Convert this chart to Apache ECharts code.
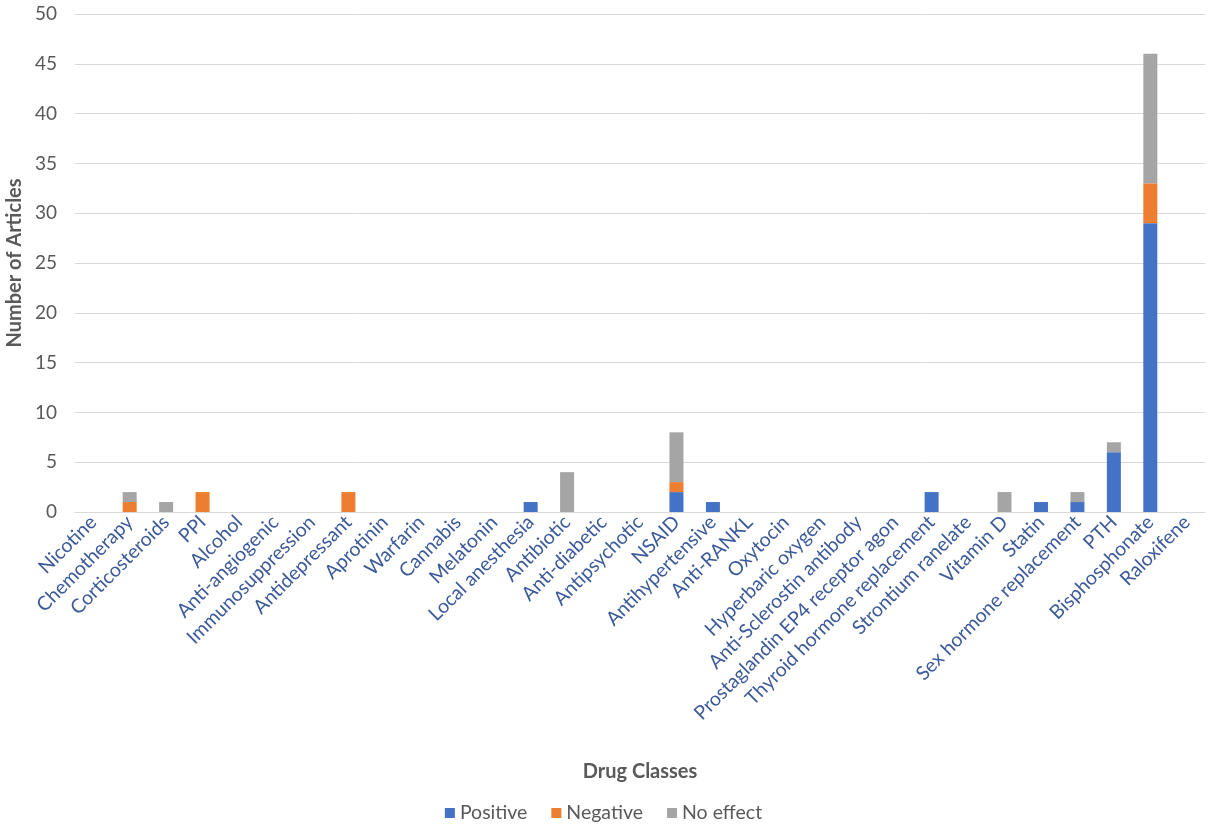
<!DOCTYPE html>
<html>
<head>
<meta charset="utf-8">
<script src="https://cdn.jsdelivr.net/npm/echarts@6/dist/echarts.min.js"></script>
<style>
  html, body { margin: 0; padding: 0; background: #ffffff; }
  #chart { width: 1207px; height: 831px; }
</style>
</head>
<body>
<div id="chart"></div>
<script>
// Drug classes along the x axis
const categories = [
  'Nicotine', 'Chemotherapy', 'Corticosteroids', 'PPI', 'Alcohol',
  'Anti-angiogenic', 'Immunosuppression', 'Antidepressant', 'Aprotinin', 'Warfarin',
  'Cannabis', 'Melatonin', 'Local anesthesia', 'Antibiotic', 'Anti-diabetic',
  'Antipsychotic', 'NSAID', 'Antihypertensive', 'Anti-RANKL', 'Oxytocin',
  'Hyperbaric oxygen', 'Anti-Sclerostin antibody', 'Prostaglandin EP4 receptor agon',
  'Thyroid hormone replacement', 'Strontium ranelate', 'Vitamin D', 'Statin',
  'Sex hormone replacement', 'PTH', 'Bisphosphonate', 'Raloxifene'
];

// Number of articles per outcome
const positive = [0, 0, 0, 0, 0, 0, 0, 0, 0, 0, 0, 0, 1, 0, 0, 0, 2, 1, 0, 0, 0, 0, 0, 2, 0, 0, 1, 1, 6, 29, 0];
const negative = [0, 1, 0, 2, 0, 0, 0, 2, 0, 0, 0, 0, 0, 0, 0, 0, 1, 0, 0, 0, 0, 0, 0, 0, 0, 0, 0, 0, 0, 4, 0];
const noEffect = [0, 1, 1, 0, 0, 0, 0, 0, 0, 0, 0, 0, 0, 4, 0, 0, 5, 0, 0, 0, 0, 0, 0, 0, 0, 2, 0, 1, 1, 13, 0];

const yTicks = { min: 0, max: 50, interval: 5 };

const FONT = 'Lato, "Open Sans", sans-serif';
const FS = 19.5;
const chart = echarts.init(document.getElementById('chart'));

function barSeries(name, data, color) {
  return {
    name: name,
    type: 'bar',
    stack: 'articles',
    data: data,
    barWidth: 14,
    itemStyle: { color: color },
    emphasis: { disabled: true }
  };
}

chart.setOption({
  animation: false,
  textStyle: { fontFamily: FONT },
  grid: {
    left: 75, right: 2, top: 14, bottom: 319,
    containLabel: false,
    outerBoundsMode: 'none'
  },
  legend: {
    bottom: 3,
    left: 'center',
    itemWidth: 10,
    itemHeight: 10,
    itemGap: 24,
    icon: 'rect',
    textStyle: { color: '#595959', fontSize: FS, fontFamily: FONT },
    data: ['Positive', 'Negative', 'No effect']
  },
  xAxis: {
    type: 'category',
    data: categories,
    name: 'Drug Classes',
    nameLocation: 'middle',
    nameGap: 250,
    nameTextStyle: { color: '#595959', fontSize: 20, fontWeight: 'bold', fontFamily: FONT },
    axisLine: { lineStyle: { color: '#D9D9D9', width: 1 } },
    axisTick: { show: false },
    axisLabel: {
      interval: 0,
      rotate: 45,
      margin: 7,
      color: '#3B5A9A',
      fontSize: FS,
      fontFamily: FONT
    }
  },
  yAxis: {
    type: 'value',
    min: yTicks.min,
    max: yTicks.max,
    interval: yTicks.interval,
    name: 'Number of Articles',
    nameLocation: 'middle',
    nameGap: 47,
    nameTextStyle: { color: '#595959', fontSize: 20, fontWeight: 'bold', fontFamily: FONT },
    axisLine: { show: false },
    axisTick: { show: false },
    axisLabel: { color: '#595959', fontSize: 19, margin: 18, fontFamily: FONT },
    splitLine: { lineStyle: { color: '#D9D9D9', width: 1 } }
  },
  series: [
    barSeries('Positive', positive, '#4472C4'),
    barSeries('Negative', negative, '#ED7D31'),
    barSeries('No effect', noEffect, '#A5A5A5')
  ]
});
</script>
</body>
</html>
